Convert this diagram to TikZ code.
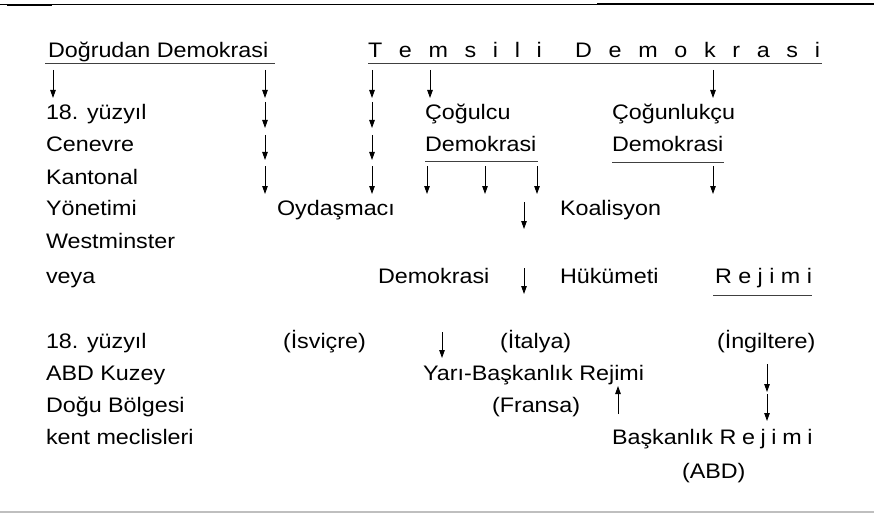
\documentclass[tikz,border=0pt]{standalone}
\usepackage{fontspec}
\setmainfont{Liberation Sans}[FakeStretch=1.11]
\usetikzlibrary{arrows.meta}
\tikzset{
  lbl/.style={anchor=base west, inner sep=0pt, outer sep=0pt, font=\fontsize{21}{25}\selectfont},
  flow/.style={line width=0.9pt, -{Triangle[length=8pt,width=5.5pt]}},
  uline/.style={line width=0.9pt, black!75},
}
\newcommand{\spaced}[2]{\makebox[#1][s]{#2}}
\begin{document}
\begin{tikzpicture}[x=1pt,y=-1pt]
\useasboundingbox (0,0) rectangle (874,513);
% page rules
\draw[line width=0.9pt] (0,4) -- (874,4);
\draw[line width=1.8pt] (597,4) -- (874,4);
\draw[line width=2pt] (7,5) -- (52,5);
\draw[line width=1.2pt, black!25] (0,512) -- (874,512);

% headings
\node[lbl] (dd) at (48,58) {Doğrudan Demokrasi};
\node[lbl] (td) at (368,58) {\spaced{452pt}{T\hfill e\hfill m\hfill s\hfill i\hfill l\hfill i\hfill\hfill D\hfill e\hfill m\hfill o\hfill k\hfill r\hfill a\hfill s\hfill i}};
\draw[uline] (dd.base west) ++(-3,5) coordinate (ddu1) -- ++(230,0) coordinate (ddu2);
\draw[uline] (td.base west) ++(0,5) coordinate (tdu1) -- ++(454,0) coordinate (tdu2);

% left column
\node[lbl] (l1) at (46,120) {18. yüzyıl};
\node[lbl] (l2) at (46,152) {Cenevre};
\node[lbl] (l3) at (46,184) {Kantonal};
\node[lbl] (l4) at (46,215) {Yönetimi};
\node[lbl] (l5) at (46,248) {Westminster};
\node[lbl] (l6) at (46,283) {veya};
\node[lbl] (l7) at (46,348) {18. yüzyıl};
\node[lbl] (l8) at (46,380) {ABD Kuzey};
\node[lbl] (l9) at (46,412) {Doğu Bölgesi};
\node[lbl] (l10) at (46,444) {kent meclisleri};

% consensus branch
\node[lbl] (oy) at (277,215) {Oydaşmacı};
\node[lbl] (oyd) at (378,283) {Demokrasi};
\node[lbl] (isv) at (283,348) {(İsviçre)};

% pluralist branch
\node[lbl] (cg) at (425,120) {Çoğulcu};
\node[lbl] (cgd) at (425,152) {Demokrasi};
\draw[uline] (cgd.base west) ++(0,9) -- ++(113,0);
\node[lbl] (ko) at (560,215) {Koalisyon};
\node[lbl] (hu) at (560,283) {Hükümeti};
\node[lbl] (it) at (500,348) {(İtalya)};
\node[lbl] (yb) at (423,380) {Yarı-Başkanlık Rejimi};
\node[lbl] (fr) at (492,412) {(Fransa)};

% majoritarian branch
\node[lbl] (cn) at (612,120) {Çoğunlukçu};
\node[lbl] (cnd) at (612,152) {Demokrasi};
\draw[uline] (cnd.base west) ++(0,10) -- ++(112,0);
\node[lbl] (rj) at (715,283) {\spaced{97pt}{R\hfill e\hfill j\hfill i\hfill m\hfill i}};
\draw[uline] (rj.base west) ++(-2,12) -- ++(99,0);
\node[lbl] (ing) at (717,348) {(İngiltere)};
\node[lbl] (bk) at (612,444) {Başkanlık \spaced{93pt}{R\hfill e\hfill j\hfill i\hfill m\hfill i}};
\node[lbl] (abd) at (682,478) {(ABD)};

% arrows: name / x / top / bottom
\foreach \n/\x/\ya/\yb in {
  b1/53/70/98, b2/265/70/98, b3/372/70/98, b4/430/70/98, b5/713/70/98,
  c1/265/102/128, c2/372/102/128,
  d1/265/135/160, d2/372/135/160,
  e1/265/166/194, e2/372/166/194, e3/427/166/194, e4/485/166/194, e5/537/166/194, e6/713/166/194,
  f1/524/202/229,
  h1/524/268/294,
  i1/442/332/358,
  j1/767/364/392,
  k2/767/394/421}{
  \coordinate (\n s) at (\x,\ya);
  \coordinate (\n e) at (\x,\yb);
  \draw[flow] (\n s) -- (\n e);
}
% arrow pointing up towards the semi-presidential regime
\coordinate (k1s) at (618,414);
\coordinate (k1e) at (618,386);
\draw[flow] (k1s) -- (k1e);
\end{tikzpicture}
\end{document}
